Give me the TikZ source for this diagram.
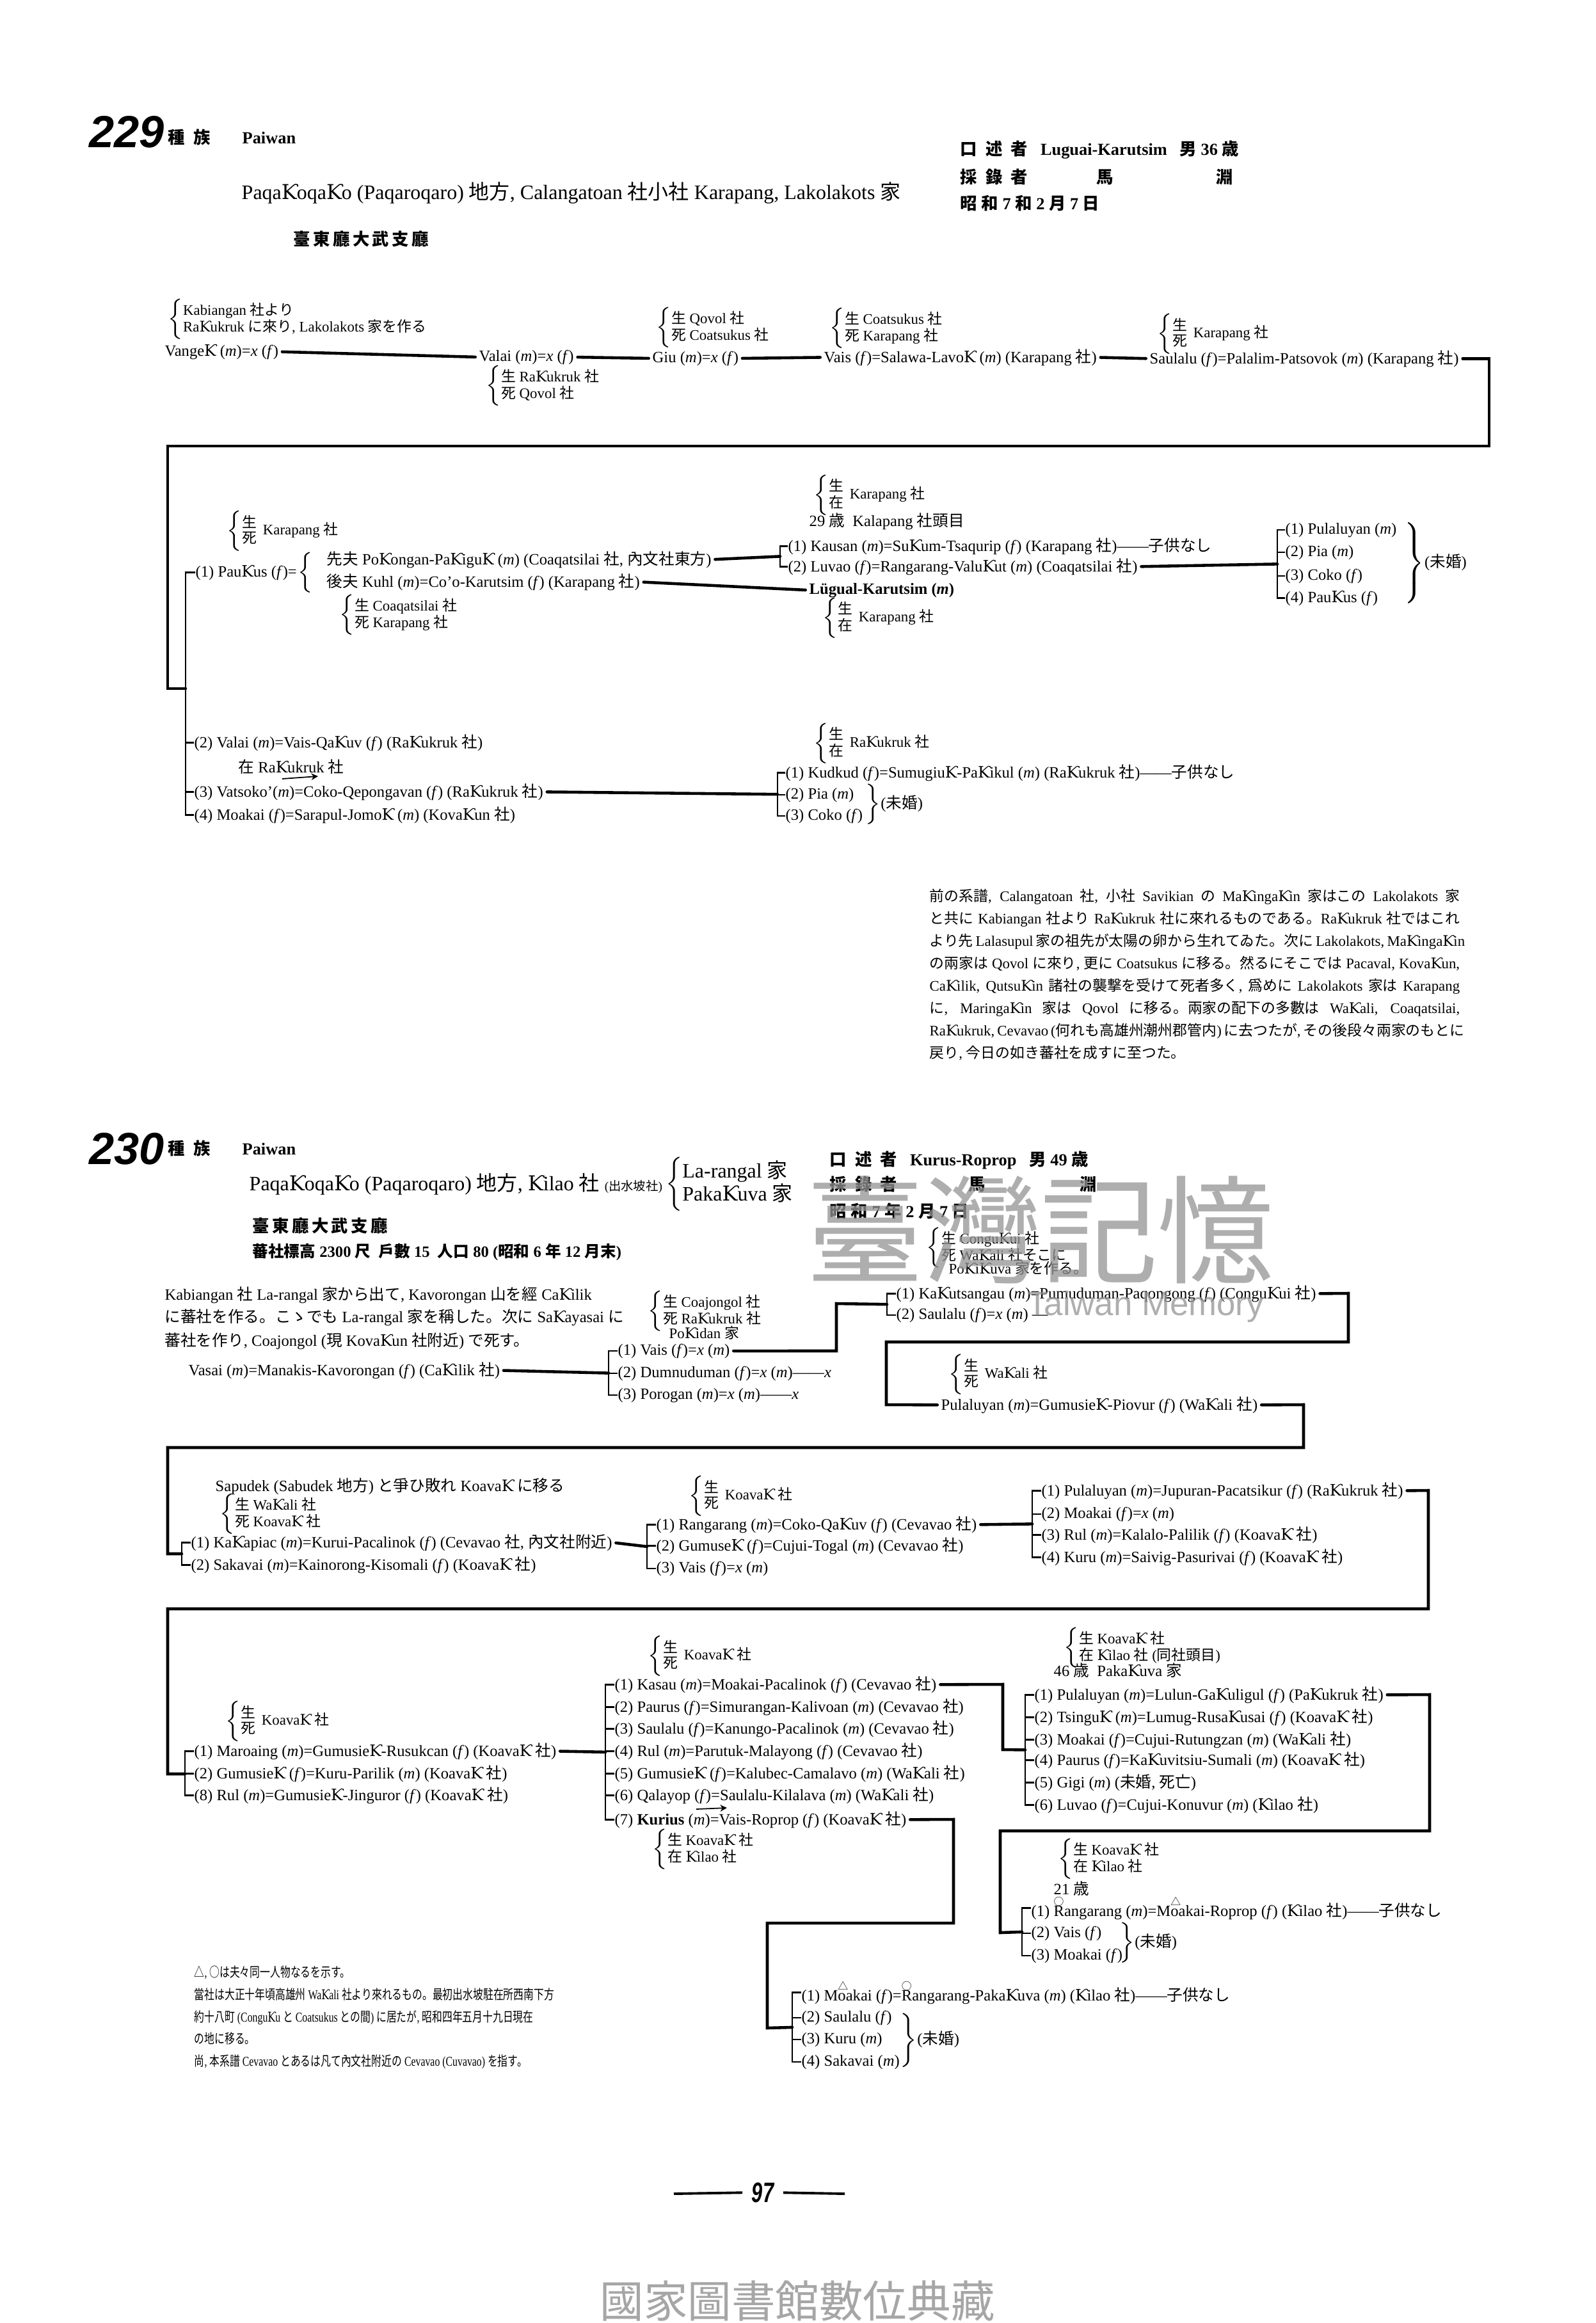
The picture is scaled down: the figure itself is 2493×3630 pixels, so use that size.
\documentclass[tikz,border=0pt]{standalone}
\usepackage{fontspec}
\usepackage{graphicx}
\setmainfont{Liberation Serif}
\newfontfamily\cjkf{Noto Sans CJK JP}
\newfontfamily\djs{DejaVu Serif}
\newfontfamily\hsans{Liberation Sans}
\usetikzlibrary{calc,arrows.meta}
% automatic switch to the CJK font for Japanese characters
\chardef\JAcls=200
\newcount\jac
\def\jarange#1#2{\jac=#1\relax\loop\XeTeXcharclass\jac=\JAcls\relax\ifnum\jac<#2\advance\jac by 1\repeat}
\jarange{"3000}{"30FF}
\jarange{"4E00}{"9FFF}
\jarange{"FF00}{"FFEF}
\jarange{"25A0}{"25FF}
\XeTeXinterchartoks 0 200 = {\cjkf}
\XeTeXinterchartoks 1 200 = {\cjkf}
\XeTeXinterchartoks 2 200 = {\cjkf}
\XeTeXinterchartoks 3 200 = {\cjkf}
\XeTeXinterchartoks 4095 200 = {\cjkf}
\XeTeXinterchartoks 200 0 = {\rmfamily}
\XeTeXinterchartoks 200 1 = {\rmfamily}
\XeTeXinterchartoks 200 2 = {\rmfamily}
\XeTeXinterchartoks 200 3 = {\rmfamily}
\XeTeXinterchartoks 200 4095 = {\rmfamily}
\XeTeXinterchartokenstate=1
\newcommand\KH{{\djs Ƙ}}
\newcommand\Mx{(\textit{m})}
\newcommand\Fx{(\textit{f})}
\newcommand\Xx{\textit{x}}
\newcommand\fsN{\fontsize{7}{8.4}\selectfont}
\newcommand\fsS{\fontsize{6.5}{7.6}\selectfont}
\newcommand\fsT{\fontsize{9.1}{11}\selectfont}
\newcommand\fsH{\fontsize{7.5}{9}\selectfont\bfseries}
\newcommand\fsP{\fontsize{6.5}{8}\selectfont}
\newcommand\fsQ{\fontsize{6}{7}\selectfont}
\newcommand\two[2]{$\left\{\renewcommand\arraystretch{0.8}\begin{tabular}{@{}l@{}}#1\\#2\end{tabular}\right.$}
\newcommand\twoc[3]{$\left\{\renewcommand\arraystretch{0.8}\begin{tabular}{@{}l@{}}#1\\#2\end{tabular}\right.$#3}
\newcommand\rb[1]{$\left.\vrule height #1 depth #1 width 0pt\right\}$}
\newcommand\mk[1]{\rlap{\raisebox{1.5ex}{\fontsize{4.5}{5}\selectfont #1}}}
\newcommand\nt[1]{\scalebox{0.75}[1]{#1}}
\begin{document}
\begin{tikzpicture}[x=0.01cm,y=-0.01cm,
 t/.style={anchor=mid west,inner sep=0pt,font=\fsN},
 tb/.style={anchor=west,inner sep=0pt,font=\fsS},
 ln/.style={line width=1.3pt,line cap=round},
 br/.style={line width=0.7pt},
 gap/.style={shorten <=1.5pt,shorten >=1.5pt},
 sarrow/.style={-{Stealth[length=3pt,width=3pt]},line width=0.5pt},
 big/.style={anchor=west,inner sep=0pt,font=\hsans\bfseries\itshape\fontsize{20}{22}\selectfont},
 wm/.style={inner sep=0pt,text=black!42,opacity=0.75}]
\fill[white] (0,0) rectangle (2493,3630);
\useasboundingbox (0,0) rectangle (2493,3630);

% ================= 229 =================
\node[big] (n229) at (139,206) {229};
\node[t,font=\fsH] (h229) at (262,216) {種\ \ 族\hspace{0.5cm}Paiwan};
\node[t,font=\fsT] (t229) at (377,303) {Paqa\KH oqa\KH o (Paqaroqaro) 地方, Calangatoan 社小社 Karapang, Lakolakots 家};
\node[t,font=\fsH] (d229) at (458,375) {臺\,東\,廳\,大\,武\,支\,廳};
\node[t,font=\fsH] (r1) at (1500,234) {口\ \ 述\ \ 者\ \ \ Luguai-Karutsim\ \ \ 男 36 歳};
\node[t,font=\fsH] (r2) at (1500,278) {採\ \ 錄\ \ 者};
\node[t,font=\fsH] (r2b) at (1713,278) {馬};
\node[t,font=\fsH] (r2c) at (1900,278) {淵};
\node[t,font=\fsH] (r3) at (1500,319) {昭\ 和\ 7\ 和\ 2\ 月\ 7\ 日};

% row 1
\node[tb] (a0) at (262,499) {\two{Kabiangan 社より}{Ra\KH ukruk に來り, Lakolakots 家を作る}};
\node[t] (a1) at (257,548) {Vange\KH{} \Mx=\Xx{} \Fx};
\node[t] (a2) at (748,556) {Valai \Mx=\Xx{} \Fx};
\node[tb] (a2l) at (759,603) {\two{生 Ra\KH ukruk 社}{死 Qovol 社}};
\node[tb] (a3l) at (1025,512) {\two{生 Qovol 社}{死 Coatsukus 社}};
\node[t] (a3) at (1019,558) {Giu \Mx=\Xx{} \Fx};
\node[tb] (a4l) at (1296,513) {\two{生 Coatsukus 社}{死 Karapang 社}};
\node[t] (a4) at (1287,558) {Vais \Fx=Salawa-Lavo\KH{} \Mx{} (Karapang 社)};
\node[tb] (a5l) at (1808,522) {\twoc{生}{死}{ Karapang 社}};
\node[t] (a5) at (1796,560) {Saulalu \Fx=Palalim-Patsovok \Mx{} (Karapang 社)};
\draw[ln,gap] (a1.east) -- (a2.west);
\draw[ln,gap] (a2.east) -- (a3.west);
\draw[ln,gap] (a3.east) -- (a4.west);
\draw[ln,gap] (a4.east) -- (a5.west);
\coordinate (k1) at (2327,697);
\coordinate (k2) at (262,697);
\coordinate (k3) at (262,1076);
\coordinate (k4) at (290,1076);
\draw[ln] ([xshift=1.5pt]a5.east) -| (k1) -- (k2) -- (k3) -- (k4);

% row 2
\node[tb] (b0l) at (354,830) {\twoc{生}{死}{ Karapang 社}};
\node[t] (b1) at (305,893) {(1) Pau\KH us \Fx=};
\node[anchor=west,inner sep=0pt] (b1br) at (b1.east) {$\left\{\vrule height 6pt depth 6pt width 0pt\right.$};
\node[t] (b11) at (510,874) {先夫 Po\KH ongan-Pa\KH igu\KH{} \Mx{} (Coaqatsilai 社, 內文社東方)};
\node[t] (b12) at (510,909) {後夫 Kuhl \Mx=Co'o-Karutsim \Fx{} (Karapang 社)};
\node[tb] (b1l) at (530,961) {\two{生 Coaqatsilai 社}{死 Karapang 社}};
\node[tb] (b2l) at (1271,774) {\twoc{生}{在}{ Karapang 社}};
\node[t] (b2a) at (1264,814) {29 歳\ \ Kalapang 社頭目};
\node[t] (c1) at (1231,853) {(1) Kausan \Mx=Su\KH um-Tsaqurip \Fx{} (Karapang 社)——子供なし};
\node[t] (c2) at (1231,885) {(2) Luvao \Fx=Rangarang-Valu\KH ut \Mx{} (Coaqatsilai 社)};
\draw[br] (c1.west) -- ++(-12,0) |- (c2.west);
\draw[ln,shorten <=1.5pt] (b11.east) -- ($(c1.west)!0.5!(c2.west)+(-12,0)$);
\node[t,font=\fsN\bfseries] (c3) at (1264,920) {Lügual-Karutsim \Mx};
\node[tb] (c3l) at (1285,966) {\twoc{生}{在}{ Karapang 社}};
\draw[ln,gap] (b12.east) -- (c3.west);
\node[t] (d1) at (2008,826) {(1) Pulaluyan \Mx};
\node[t] (d2) at (2008,861) {(2) Pia \Mx};
\node[t] (d3) at (2008,898) {(3) Coko \Fx};
\node[t] (d4) at (2008,933) {(4) Pau\KH us \Fx};
\draw[br] (d1.west) -- ++(-12,0) |- (d4.west);
\draw[br] (d2.west) -- ++(-12,0);
\draw[br] (d3.west) -- ++(-12,0);
\draw[ln,shorten <=1.5pt] (c2.east) -- ($(d1.west)!0.5!(d4.west)+(-12,0)$);
\node[anchor=west,inner sep=0pt,font=\fsN] (d5) at (2190,880) {\rb{15pt}(未婚)};

% row 3
\node[t] (e2) at (303,1160) {(2) Valai \Mx=Vais-Qa\KH uv \Fx{} (Ra\KH ukruk 社)};
\node[t] (e2n) at (372,1199) {在 Ra\KH ukruk 社};
\node[t] (e3) at (303,1237) {(3) Vatsoko'\Mx=Coko-Qepongavan \Fx{} (Ra\KH ukruk 社)};
\node[t] (e4) at (303,1273) {(4) Moakai \Fx=Sarapul-Jomo\KH{} \Mx{} (Kova\KH un 社)};
\coordinate (ea1) at (441,1217);
\coordinate (ea2) at (497,1213);
\draw[sarrow] (ea1) -- (ea2);
\draw[br] (b1.west) -- ++(-15,0) |- (e4.west);
\draw[br] (e2.west) -- ++(-13,0);
\draw[br] (e3.west) -- ++(-13,0);
\node[tb] (f0l) at (1271,1162) {\twoc{生}{在}{ Ra\KH ukruk 社}};
\node[t] (f1) at (1227,1207) {(1) Kudkud \Fx=Sumugiu\KH-Pa\KH ikul \Mx{} (Ra\KH ukruk 社)——子供なし};
\node[t] (f2) at (1227,1240) {(2) Pia \Mx};
\node[t] (f3) at (1227,1273) {(3) Coko \Fx};
\draw[br] (f1.west) -- ++(-12,0) |- (f3.west);
\draw[br] (f2.west) -- ++(-12,0);
\draw[ln,shorten <=1.5pt] (e3.east) -- ($(f1.west)!0.5!(f3.west)+(-12,0)$);
\node[anchor=west,inner sep=0pt,font=\fsN] (f4) at (1348,1257) {\rb{5pt}(未婚)};

% paragraph
\node[anchor=north west,inner sep=0pt,font=\fsP] (para) at (1452,1388) {\begin{minipage}{8.28cm}\baselineskip=0.35cm\relax\parindent=0pt
\makebox[8.28cm][s]{前の系譜, Calangatoan 社, 小社 Savikian の Ma\KH inga\KH in 家はこの Lakolakots 家}\\
\makebox[8.28cm][s]{と共に Kabiangan 社より Ra\KH ukruk 社に來れるものである。Ra\KH ukruk 社ではこれ}\\
\makebox[8.28cm][s]{より先 Lalasupul 家の祖先が太陽の卵から生れてゐた。次に Lakolakots, Ma\KH inga\KH in}\\
\makebox[8.28cm][s]{の兩家は Qovol に來り, 更に Coatsukus に移る。然るにそこでは Pacaval, Kova\KH un,}\\
\makebox[8.28cm][s]{Ca\KH ilik, Qutsu\KH in 諸社の襲撃を受けて死者多く, 爲めに Lakolakots 家は Karapang}\\
\makebox[8.28cm][s]{に, Maringa\KH in 家は Qovol に移る。兩家の配下の多數は Wa\KH ali, Coaqatsilai,}\\
\makebox[8.28cm][s]{Ra\KH ukruk, Cevavao (何れも高雄州潮州郡管内) に去つたが, その後段々兩家のもとに}\\
戻り, 今日の如き蕃社を成すに至つた。
\end{minipage}};

% ================= 230 =================
\node[big] (n230) at (139,1795) {230};
\node[t,font=\fsH] (h230) at (262,1796) {種\ \ 族\hspace{0.5cm}Paiwan};
\node[t,font=\fsT] (t230) at (389,1852) {Paqa\KH oqa\KH o (Paqaroqaro) 地方, \KH ilao 社 {\fontsize{5.5}{6}\selectfont(出水坡社)}};
\node[anchor=west,inner sep=0pt,font=\fsT] (t230b) at ([xshift=1pt]t230.east) {\two{La-rangal 家}{Paka\KH uva 家}};
\node[t,font=\fsH] (d230) at (394,1917) {臺\,東\,廳\,大\,武\,支\,廳};
\node[t,font=\fsN\bfseries] (s230) at (394,1956) {蕃社標高 2300 尺\ \ 戶數 15\ \ 人口 80 (昭和 6 年 12 月末)};
\node[t,font=\fsH] (q1) at (1296,1813) {口\ \ 述\ \ 者\ \ \ Kurus-Roprop\ \ \ 男 49 歳};
\node[t,font=\fsH] (q2) at (1296,1852) {採\ \ 錄\ \ 者};
\node[t,font=\fsH] (q2b) at (1513,1852) {馬};
\node[t,font=\fsH] (q2c) at (1687,1852) {淵};
\node[t,font=\fsH] (q3) at (1296,1894) {昭\ 和\ 7\ 年\ 2\ 月\ 7\ 日};

\node[tb] (g0l) at (1447,1950) {\two{生 Congu\KH ui 社}{死 Wa\KH ali 社そこに}};
\node[t,font=\fsS] (g0n) at (1482,1982) {Po\KH i\KH uva 家を作る。};
\node[t] (h1) at (1400,2021) {(1) Ka\KH utsangau \Mx=Pumuduman-Paqongong \Fx{} (Congu\KH ui 社)};
\node[t] (h2) at (1400,2053) {(2) Saulalu \Fx=\Xx{} \Mx{} —};
\draw[br] (h1.west) -- ++(-14,0) |- (h2.west);

\node[t] (g1) at (257,2023) {Kabiangan 社 La-rangal 家から出て, Kavorongan 山を經 Ca\KH ilik};
\node[t] (g2) at (257,2058) {に蕃社を作る。こゝでも La-rangal 家を稱した。次に Sa\KH ayasai に};
\node[t] (g3) at (257,2095) {蕃社を作り, Coajongol (現 Kova\KH un 社附近) で死す。};
\node[tb] (g4l) at (1012,2049) {\two{生 Coajongol 社}{死 Ra\KH ukruk 社}};
\node[t,font=\fsS] (g4n) at (1045,2083) {Po\KH idan 家};
\node[t] (g5) at (294,2141) {Vasai \Mx=Manakis-Kavorongan \Fx{} (Ca\KH ilik 社)};
\node[t] (g61) at (965,2109) {(1) Vais \Fx=\Xx{} \Mx};
\node[t] (g62) at (965,2144) {(2) Dumnuduman \Fx=\Xx{} \Mx——\Xx};
\node[t] (g63) at (965,2178) {(3) Porogan \Mx=\Xx{} \Mx——\Xx};
\draw[br] (g61.west) -- ++(-14,0) |- (g63.west);
\draw[br] (g62.west) -- ++(-14,0);
\draw[ln,shorten <=1.5pt] (g5.east) -- ($(g61.west)!0.5!(g63.west)+(-14,0)$);
\coordinate (gk1) at (1307,2111);
\coordinate (gk2) at (1307,2037);
\draw[ln,shorten <=1.5pt] (g61.east) -- (gk1) -- (gk2) -- ($(h1.west)!0.5!(h2.west)+(-14,0)$);

\node[tb] (i1l) at (1482,2148) {\twoc{生}{死}{ Wa\KH ali 社}};
\node[t] (i1) at (1470,2195) {Pulaluyan \Mx=Gumusie\KH-Piovur \Fx{} (Wa\KH ali 社)};
\coordinate (hk1) at (2107,2021);
\coordinate (hk2) at (2107,2097);
\coordinate (hk3) at (1385,2097);
\coordinate (hk4) at (1385,2195);
\draw[ln,shorten <=1.5pt,shorten >=1.5pt] (h1.east) -- (hk1) -- (hk2) -- (hk3) -- (hk4) -- (i1.west);

\coordinate (ik1) at (2037,2195);
\coordinate (ik2) at (2037,2262);
\coordinate (ik3) at (262,2262);
\coordinate (ik4) at (262,2428);
\coordinate (ik5) at (284,2428);
\draw[ln,shorten <=1.5pt] (i1.east) -- (ik1) -- (ik2) -- (ik3) -- (ik4) -- (ik5);

\node[t] (j0) at (336,2322) {Sapudek (Sabudek 地方) と爭ひ敗れ Koava\KH{} に移る};
\node[tb] (j0l) at (343,2366) {\two{生 Wa\KH ali 社}{死 Koava\KH{} 社}};
\node[t] (j1) at (298,2410) {(1) Ka\KH apiac \Mx=Kurui-Pacalinok \Fx{} (Cevavao 社, 內文社附近)};
\node[t] (j2) at (298,2445) {(2) Sakavai \Mx=Kainorong-Kisomali \Fx{} (Koava\KH{} 社)};
\draw[br] (j1.west) -- ++(-14,0) |- (j2.west);

\node[tb] (k0l) at (1076,2338) {\twoc{生}{死}{ Koava\KH{} 社}};
\node[t] (kk1) at (1025,2382) {(1) Rangarang \Mx=Coko-Qa\KH uv \Fx{} (Cevavao 社)};
\node[t] (kk2) at (1025,2415) {(2) Gumuse\KH{} \Fx=Cujui-Togal \Mx{} (Cevavao 社)};
\node[t] (kk3) at (1025,2449) {(3) Vais \Fx=\Xx{} \Mx};
\draw[br] (kk1.west) -- ++(-14,0) |- (kk3.west);
\draw[br] (kk2.west) -- ++(-14,0);
\draw[ln,shorten <=1.5pt] (j1.east) -- ($(kk1.west)!0.5!(kk3.west)+(-14,0)$);

\node[t] (l1) at (1627,2329) {(1) Pulaluyan \Mx=Jupuran-Pacatsikur \Fx{} (Ra\KH ukruk 社)};
\node[t] (l2) at (1627,2364) {(2) Moakai \Fx=\Xx{} \Mx};
\node[t] (l3) at (1627,2398) {(3) Rul \Mx=Kalalo-Palilik \Fx{} (Koava\KH{} 社)};
\node[t] (l4) at (1627,2433) {(4) Kuru \Mx=Saivig-Pasurivai \Fx{} (Koava\KH{} 社)};
\draw[br] (l1.west) -- ++(-14,0) |- (l4.west);
\draw[br] (l2.west) -- ++(-14,0);
\draw[br] (l3.west) -- ++(-14,0);
\draw[ln,shorten <=1.5pt] (kk1.east) -- ($(l1.west)!0.5!(l4.west)+(-14,0)$);

\coordinate (lk1) at (2232,2329);
\coordinate (lk2) at (2232,2514);
\coordinate (lk3) at (262,2514);
\coordinate (lk4) at (262,2772);
\coordinate (lk5) at (289,2772);
\draw[ln,shorten <=1.5pt] (l1.east) -- (lk1) -- (lk2) -- (lk3) -- (lk4) -- (lk5);

\node[tb] (m0l) at (352,2690) {\twoc{生}{死}{ Koava\KH{} 社}};
\node[t] (m1) at (303,2736) {(1) Maroaing \Mx=Gumusie\KH-Rusukcan \Fx{} (Koava\KH{} 社)};
\node[t] (m2) at (303,2771) {(2) Gumusie\KH{} \Fx=Kuru-Parilik \Mx{} (Koava\KH{} 社)};
\node[t] (m3) at (303,2805) {(8) Rul \Mx=Gumusie\KH-Jinguror \Fx{} (Koava\KH{} 社)};
\draw[br] (m1.west) -- ++(-14,0) |- (m3.west);
\draw[br] (m2.west) -- ++(-14,0);

\node[tb] (n0l) at (1012,2588) {\twoc{生}{死}{ Koava\KH{} 社}};
\node[t] (p1x) at (960,2632) {(1) Kasau \Mx=Moakai-Pacalinok \Fx{} (Cevavao 社)};
\node[t] (p2x) at (960,2667) {(2) Paurus \Fx=Simurangan-Kalivoan \Mx{} (Cevavao 社)};
\node[t] (p3x) at (960,2701) {(3) Saulalu \Fx=Kanungo-Pacalinok \Mx{} (Cevavao 社)};
\node[t] (p4x) at (960,2736) {(4) Rul \Mx=Parutuk-Malayong \Fx{} (Cevavao 社)};
\node[t] (p5x) at (960,2771) {(5) Gumusie\KH{} \Fx=Kalubec-Camalavo \Mx{} (Wa\KH ali 社)};
\node[t] (p6x) at (960,2805) {(6) Qalayop \Fx=Saulalu-Kilalava \Mx{} (Wa\KH ali 社)};
\node[t] (p7x) at (960,2843) {(7) \textbf{Kurius} \Mx=Vais-Roprop \Fx{} (Koava\KH{} 社)};
\draw[br] (p1x.west) -- ++(-14,0) |- (p7x.west);
\foreach \q in {p2x,p3x,p4x,p5x,p6x} \draw[br] (\q.west) -- ++(-14,0);
\draw[ln,shorten <=1.5pt] (m1.east) -- ($(p1x.west)!0.5!(p7x.west)+(-14,0)$);
\coordinate (pa1) at (1088,2827);
\coordinate (pa2) at (1136,2825);
\draw[sarrow] (pa1) -- (pa2);
\node[tb] (n7l) at (1019,2890) {\two{生 Koava\KH{} 社}{在 \KH ilao 社}};

\node[tb] (o0l) at (1662,2575) {\two{生 Koava\KH{} 社}{在 \KH ilao 社 (同社頭目)}};
\node[t] (o0a) at (1646,2611) {46 歳\ \ Paka\KH uva 家};
\node[t] (o1) at (1616,2648) {(1) Pulaluyan \Mx=Lulun-Ga\KH uligul \Fx{} (Pa\KH ukruk 社)};
\node[t] (o2) at (1616,2683) {(2) Tsingu\KH{} \Mx=Lumug-Rusa\KH usai \Fx{} (Koava\KH{} 社)};
\node[t] (o3) at (1616,2718) {(3) Moakai \Fx=Cujui-Rutungzan \Mx{} (Wa\KH ali 社)};
\node[t] (o4) at (1616,2750) {(4) Paurus \Fx=Ka\KH uvitsiu-Sumali \Mx{} (Koava\KH{} 社)};
\node[t] (o5) at (1616,2785) {(5) Gigi \Mx{} (未婚, 死亡)};
\node[t] (o6) at (1616,2820) {(6) Luvao \Fx=Cujui-Konuvur \Mx{} (\KH ilao 社)};
\draw[br] (o1.west) -- ++(-14,0) |- (o6.west);
\foreach \q in {o2,o3,o4,o5} \draw[br] (\q.west) -- ++(-14,0);
\coordinate (pk1) at (1567,2632);
\coordinate (pk2) at (1567,2734);
\draw[ln,shorten <=1.5pt] (p1x.east) -- (pk1) -- (pk2) -- ($(o1.west)!0.5!(o6.west)+(-14,0)$);

\node[tb] (s0l) at (1653,2905) {\two{生 Koava\KH{} 社}{在 \KH ilao 社}};
\node[t] (s0a) at (1646,2952) {21 歳};
\node[t] (s1) at (1611,2986) {(1) \mk{○}Rangarang \Mx=M\mk{△}oakai-Roprop \Fx{} (\KH ilao 社)——子供なし};
\node[t] (s2) at (1611,3019) {(2) Vais \Fx};
\node[t] (s3) at (1611,3054) {(3) Moakai \Fx};
\draw[br] (s1.west) -- ++(-14,0) |- (s3.west);
\draw[br] (s2.west) -- ++(-14,0);
\node[anchor=west,inner sep=0pt,font=\fsN] (s4) at (1745,3036) {\rb{5.5pt}(未婚)};
\coordinate (ok1) at (2234,2648);
\coordinate (ok2) at (2234,2861);
\coordinate (ok3) at (1563,2861);
\coordinate (ok4) at (1563,3020);
\draw[ln,shorten <=1.5pt] (o1.east) -- (ok1) -- (ok2) -- (ok3) -- (ok4) -- ($(s1.west)!0.5!(s3.west)+(-14,0)$);

\node[t] (u1) at (1252,3118) {(1) M\mk{△}oakai \Fx=\mk{○}Rangarang-Paka\KH uva \Mx{} (\KH ilao 社)——子供なし};
\node[t] (u2) at (1252,3151) {(2) Saulalu \Fx};
\node[t] (u3) at (1252,3185) {(3) Kuru \Mx};
\node[t] (u4) at (1252,3220) {(4) Sakavai \Mx};
\draw[br] (u1.west) -- ++(-14,0) |- (u4.west);
\draw[br] (u2.west) -- ++(-14,0);
\draw[br] (u3.west) -- ++(-14,0);
\node[anchor=west,inner sep=0pt,font=\fsN] (u5) at (1402,3188) {\rb{10pt}(未婚)};
\coordinate (qk1) at (1490,2843);
\coordinate (qk2) at (1490,3005);
\coordinate (qk3) at (1199,3005);
\coordinate (qk4) at (1199,3169);
\draw[ln,shorten <=1.5pt] (p7x.east) -- (qk1) -- (qk2) -- (qk3) -- (qk4) -- ($(u1.west)!0.5!(u4.west)+(-14,0)$);

% notes
\node[t,font=\fsQ] (nt1) at (303,3081) {\nt{△, ○は夫々同一人物なるを示す。}};
\node[t,font=\fsQ] (nt2) at (303,3116) {\nt{當社は大正十年頃高雄州 Wa\KH ali 社より來れるもの。最初出水坡駐在所西南下方}};
\node[t,font=\fsQ] (nt3) at (303,3151) {\nt{約十八町 (Congu\KH u と Coatsukus との間) に居たが, 昭和四年五月十九日現在}};
\node[t,font=\fsQ] (nt4) at (303,3185) {\nt{の地に移る。}};
\node[t,font=\fsQ] (nt5) at (303,3220) {\nt{尚, 本系譜 Cevavao とあるは凡て內文社附近の Cevavao (Cuvavao) を指す。}};

% page number
\node[inner sep=0pt,font=\hsans\bfseries\itshape\fontsize{12.5}{14}\selectfont] (pg) at (1192,3426) {\scalebox{0.7}[1]{97}};
\coordinate (pgl) at (1053,3428);
\coordinate (pgr) at (1320,3428);
\draw[line width=1.1pt,shorten >=4pt] (pgl) -- (pg.west);
\draw[line width=1.1pt,shorten >=4pt] (pgr) -- (pg.east);

% watermarks
\node[wm,font=\cjkf\fontsize{52}{56}\selectfont] (wm1) at (1626,1922) {臺灣記憶};
\node[wm,font=\hsans\fontsize{15}{17}\selectfont] (wm2) at (1790,2042) {Taiwan Memory};
\node[inner sep=0pt,text=black!35,font=\cjkf\fontsize{19.5}{22}\selectfont] (wm3) at (1246,3595) {國家圖書館數位典藏};
\end{tikzpicture}
\end{document}
